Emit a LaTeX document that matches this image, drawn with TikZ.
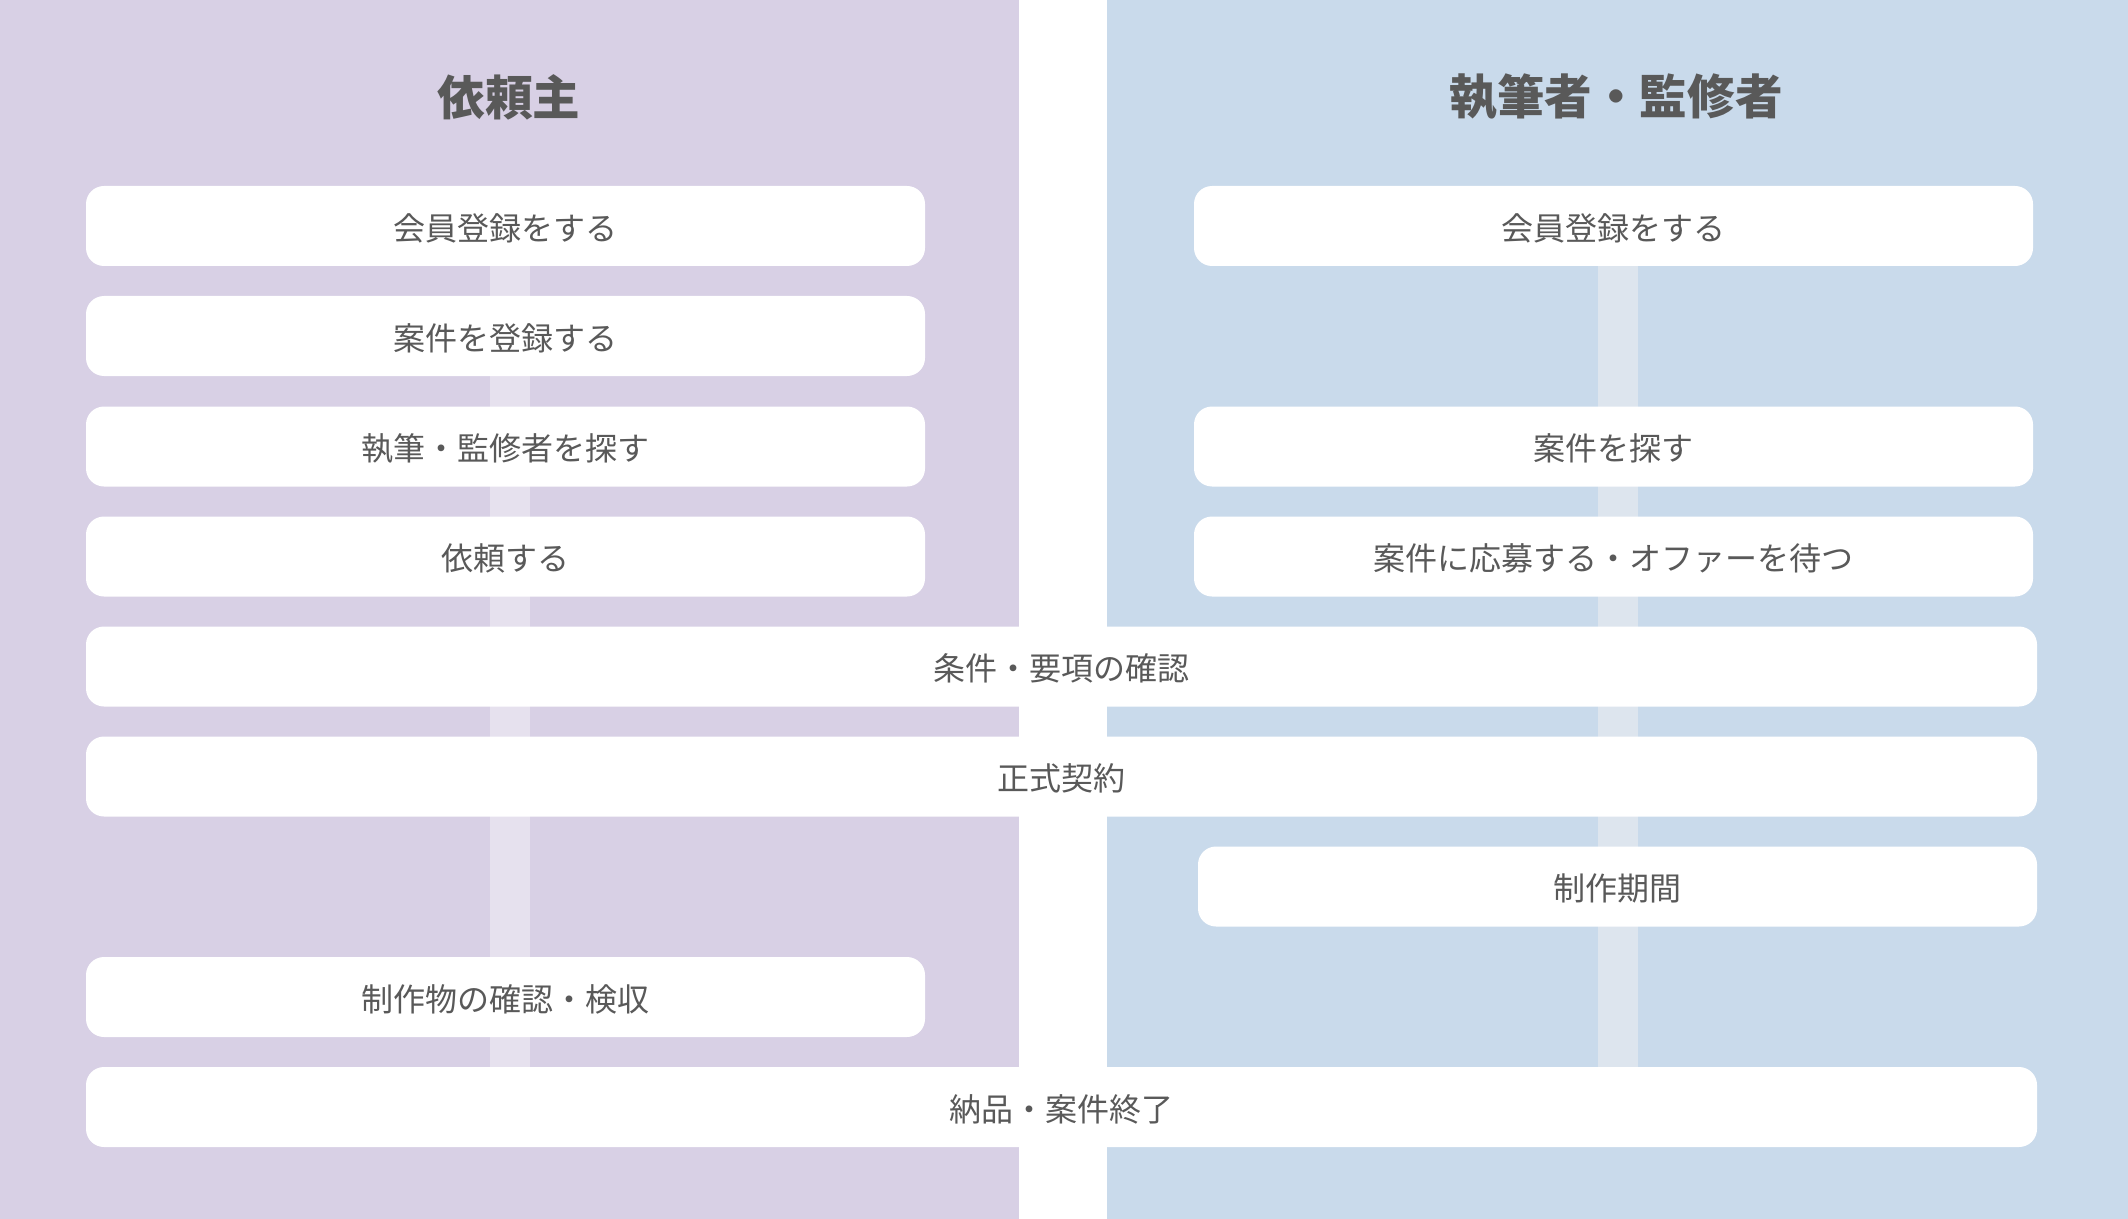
\documentclass[tikz,border=0pt]{standalone}
\usepackage{fontspec}
\newfontfamily\jp{Noto Sans CJK JP}
\usetikzlibrary{positioning}
\definecolor{lpanel}{HTML}{D8D0E5}
\definecolor{lstrip}{HTML}{E6E1EE}
\definecolor{rpanel}{HTML}{C9DAEB}
\definecolor{rstrip}{HTML}{DDE5EE}
\definecolor{txt}{HTML}{595959}
\pgfdeclarelayer{bg}
\pgfdeclarelayer{strips}
\pgfsetlayers{bg,strips,main}
\tikzset{
  stepbox/.style={fill=white, draw=none, rounded corners=9pt, inner sep=0pt,
    minimum height=40pt, text=txt, text height=16.3pt, text depth=2pt,
    font=\jp\fontsize{16pt}{18pt}\selectfont},
  halfbox/.style={stepbox, minimum width=419.5pt},
  widebox/.style={stepbox, minimum width=975.5pt},
  titletext/.style={text=txt, font=\jp\bfseries\fontsize{23.8pt}{28pt}\selectfont, inner sep=0pt},
  lline/.style={draw=lstrip, line width=20pt},
  rline/.style={draw=rstrip, line width=20pt},
}
\begin{document}
\begin{tikzpicture}[x=0.5pt, y=-0.5pt]
\useasboundingbox (0,0) rectangle (2128,1219);
\begin{pgfonlayer}{bg}
  \fill[white] (0,0) rectangle (2128,1219);
  \fill[lpanel] (0,0) rectangle (1019,1219);
  \fill[rpanel] (1107,0) rectangle (2128,1219);
\end{pgfonlayer}

\node[titletext] (tl) at (509,97) {依頼主};
\node[titletext] (tr) at (1616,97) {執筆者・監修者};

% left column
\node[halfbox] (l1) at (505.5,226) {会員登録をする};
\node[halfbox] (l2) at (505.5,336) {案件を登録する};
\node[halfbox] (l3) at (505.5,446.5) {執筆・監修者を探す};
\node[halfbox] (l4) at (505.5,556.5) {依頼する};
\node[halfbox] (l8) at (505.5,997) {制作物の確認・検収};

% right column
\node[halfbox] (r1) at (1613.5,226) {会員登録をする};
\node[halfbox] (r3) at (1613.5,446.5) {案件を探す};
\node[halfbox] (r4) at (1613.5,556.5) {案件に応募する・オファーを待つ};
\node[halfbox] (r7) at (1617.5,886.5) {制作期間};

% shared
\node[widebox] (w5) at (1061.5,666.5) {条件・要項の確認};
\node[widebox] (w6) at (1061.5,776.5) {正式契約};
\node[widebox] (w9) at (1061.5,1107) {納品・案件終了};

\begin{pgfonlayer}{strips}
  \draw[lline] ([xshift=2.25pt]l1.south) -- ([xshift=2.25pt]l1.south |- w9.north);
  \draw[rline] ([xshift=2.25pt]r1.south) -- ([xshift=2.25pt]r1.south |- w9.north);
\end{pgfonlayer}
\end{tikzpicture}
\end{document}
